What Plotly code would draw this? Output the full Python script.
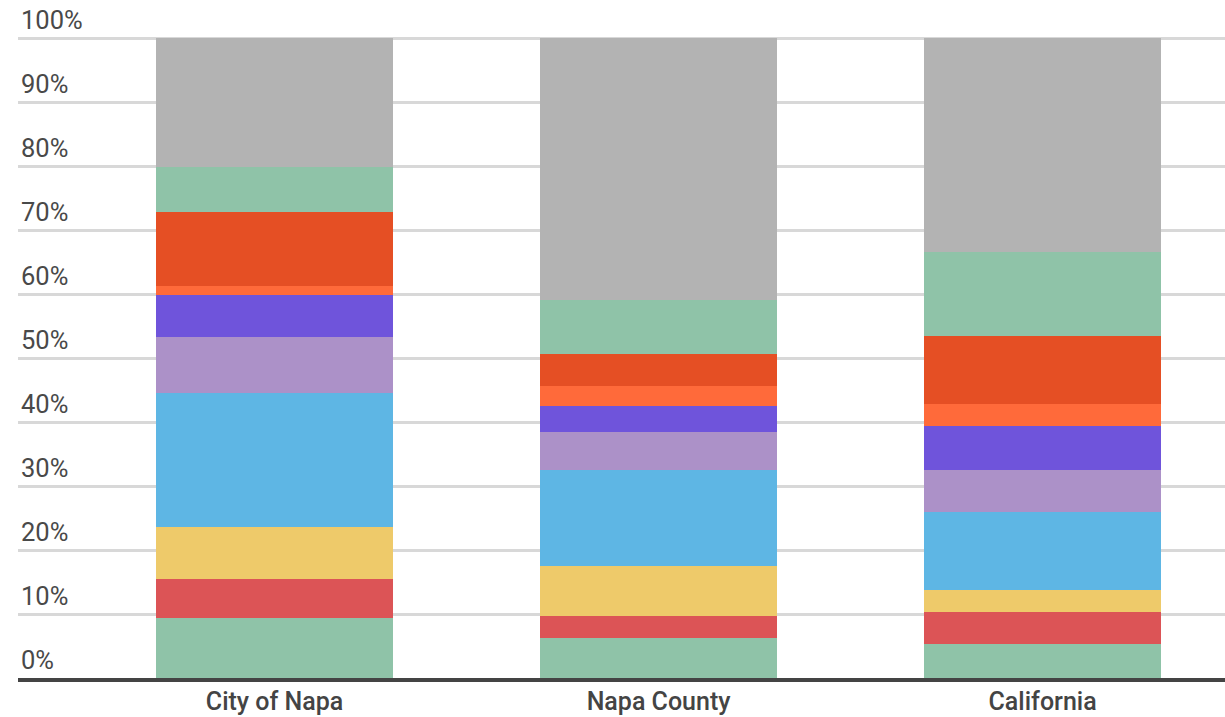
import plotly.graph_objects as go

# Areas compared
categories = ["City of Napa", "Napa County", "California"]

# Share of each group (percent), stacked bottom to top
group_1 = [9.3, 6.2, 5.3]
group_2 = [6.2, 3.5, 5.0]
group_3 = [8.1, 7.8, 3.4]
group_4 = [20.9, 15.0, 12.2]
group_5 = [8.8, 5.9, 6.6]
group_6 = [6.6, 4.1, 6.8]
group_7 = [1.3, 3.1, 3.5]
group_8 = [11.6, 5.0, 10.6]
group_9 = [7.1, 8.4, 13.1]
group_10 = [20.1, 41.0, 33.5]

series = [group_1, group_2, group_3, group_4, group_5,
          group_6, group_7, group_8, group_9, group_10]
names = ["Group 1", "Group 2", "Group 3", "Group 4", "Group 5",
         "Group 6", "Group 7", "Group 8", "Group 9", "Group 10"]
colors = ["#8fc3a8", "#dc5456", "#eeca6a", "#5eb6e4", "#ac91c8",
          "#6f54db", "#ff6a3a", "#e54f24", "#8fc3a8", "#b3b3b3"]

y_ticks = [0, 10, 20, 30, 40, 50, 60, 70, 80, 90, 100]
y_tick_labels = [f"{v}%" for v in y_ticks]

fig = go.Figure()
for vals, name, col in zip(series, names, colors):
    fig.add_trace(go.Bar(
        x=categories, y=vals, name=name,
        marker=dict(color=col, line=dict(width=0)),
        width=0.617,
    ))

fig.update_layout(
    barmode="stack",
    width=1225, height=717,
    margin=dict(l=18, r=0, t=0, b=39, pad=0),
    paper_bgcolor="white",
    plot_bgcolor="white",
    showlegend=False,
    font=dict(family="Roboto", color="#494949"),
    xaxis=dict(
        range=[-0.668, 2.475],
        automargin=False,
        showgrid=False,
        showline=True, linecolor="#444444", linewidth=4,
        ticks="",
        ticklabelstandoff=-2,
        tickfont=dict(family="Roboto", size=25, color="#444444", weight=500),
    ),
    yaxis=dict(
        range=[0, 105.94],
        automargin=False,
        tickvals=y_ticks, ticktext=y_tick_labels,
        showgrid=True, gridcolor="#d8d8d8", gridwidth=2.5,
        zeroline=False,
        ticks="",
        ticklabelposition="inside top",
        tickfont=dict(family="Roboto", size=25.5, color="#494949"),
    ),
)

fig.write_html("out.html")
